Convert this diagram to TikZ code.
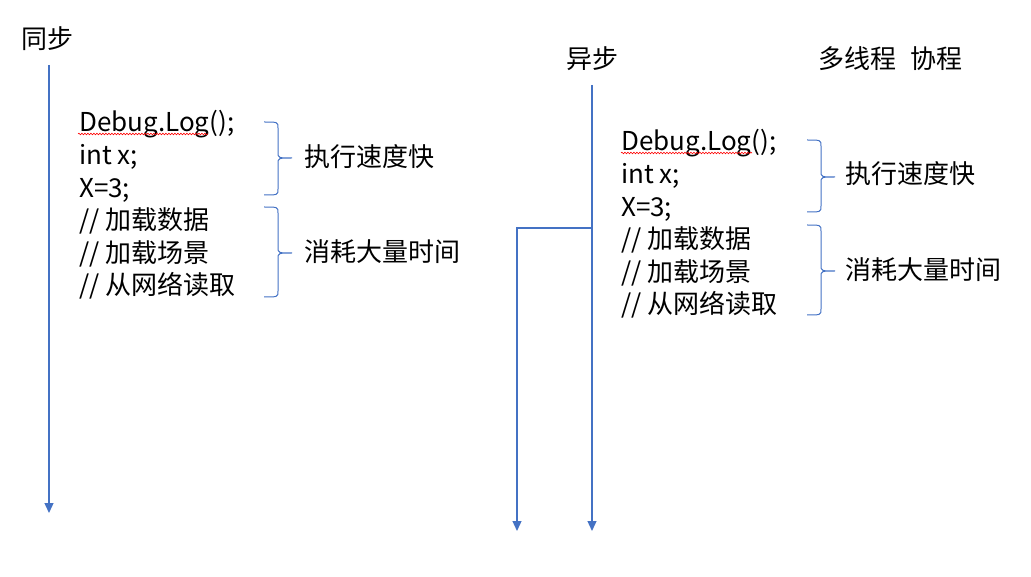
\documentclass[tikz,border=0pt]{standalone}
\usepackage{fontspec}
\setmainfont{Noto Sans CJK SC}
\usetikzlibrary{arrows.meta,decorations.pathmorphing}
\definecolor{lineblue}{HTML}{4472C4}
\tikzstyle{headtext} = [anchor=base west, inner sep=0pt, font=\fontsize{26}{30}\selectfont]
\tikzstyle{codeline} = [anchor=base west, inner sep=0pt, font=\fontsize{26}{30}\selectfont]
\tikzstyle{flow} = [draw=lineblue, line width=1.3pt, -{Triangle[width=9pt,length=10pt]}]
\tikzstyle{curly} = [draw=lineblue, line width=1pt]
\tikzstyle{typo} = [draw=red, line width=0.6pt, decorate, decoration={snake, amplitude=0.8pt, segment length=3pt}]
% curly brace: x of the ends, top, tip, bottom
\newcommand{\cbrace}[4]{%
  \draw[curly] (#1,#2) .. controls ({#1+14},#2) .. ({#1+14},{#2+6}) -- ({#1+14},{#3-6})
    .. controls ({#1+14},#3) .. ({#1+28},#3) .. controls ({#1+14},#3) .. ({#1+14},{#3+6})
    -- ({#1+14},{#4-6}) .. controls ({#1+14},#4) .. (#1,#4);}

\begin{document}
\begin{tikzpicture}[x=1pt,y=-1pt]
\useasboundingbox (0,0) rectangle (1031,577);

% sync side
\node[headtext] (sync) at (21,49) {同步};
\coordinate (s0) at (49,65);
\coordinate (s1) at (49,513);
\draw[flow] (s0) -- (s1);
\foreach \t [count=\i] in {{Debug.Log();},{int x;},{X=3;},{// 加载数据},{// 加载场景},{// 从网络读取}}
  \node[codeline] (l\i) at (79,{132+32.6*(\i-1)}) {\t};
\draw[typo] ([xshift=-1pt,yshift=-2pt]l1.base west) -- ++(130,0);
\cbrace{264}{122}{158}{195}
\cbrace{264}{207}{253}{297}
\node[codeline] (fastl) at (304,167) {执行速度快};
\node[codeline] (slowl) at (304,262) {消耗大量时间};

% async side
\node[headtext] (async) at (566,69) {异步};
\node[headtext] (thread) at (818,69) {多线程\hspace{14pt}协程};
\coordinate (a0) at (592,85);
\coordinate (a1) at (592,531);
\coordinate (b0) at (592,228);
\coordinate (b1) at (517,228);
\coordinate (b2) at (517,531);
\draw[flow] (a0) -- (a1);
\draw[flow] (b0) -- (b1) -- (b2);
\foreach \t [count=\i] in {{Debug.Log();},{int x;},{X=3;},{// 加载数据},{// 加载场景},{// 从网络读取}}
  \node[codeline] (r\i) at (621,{151+32.6*(\i-1)}) {\t};
\draw[typo] ([xshift=0pt,yshift=-2pt]r1.base west) -- ++(131,0);
\cbrace{807}{140}{177}{212}
\cbrace{807}{225}{271}{315}
\node[codeline] (fastr) at (845,184) {执行速度快};
\node[codeline] (slowr) at (845,280) {消耗大量时间};
\end{tikzpicture}
\end{document}
